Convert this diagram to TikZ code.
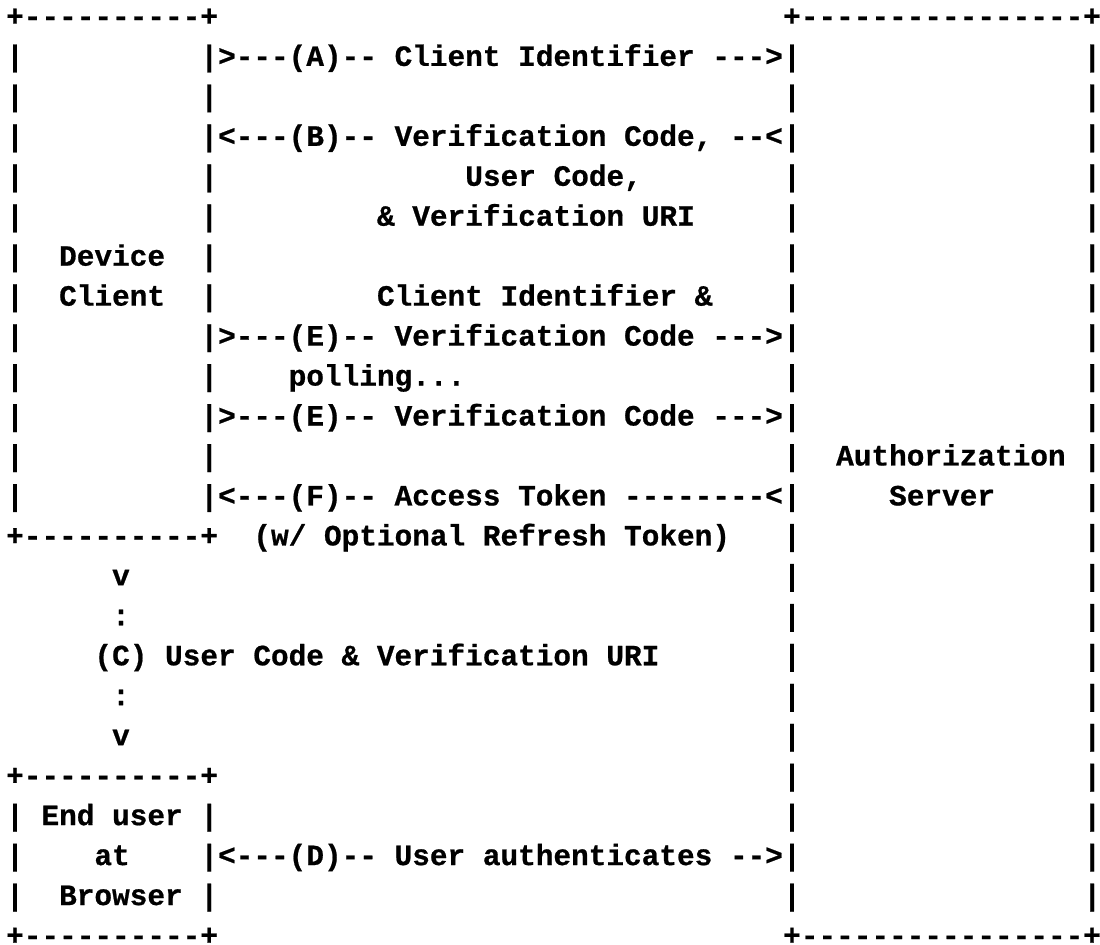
\documentclass[tikz,border=0pt]{standalone}
\usepackage{fontspec}
\setmonofont{Liberation Mono}[BoldFeatures={FakeBold=0.7}]
\begin{document}
\begin{tikzpicture}[x=8.83pt,y=-19.98pt,
    txt/.style={anchor=base west,inner sep=0pt,outer sep=0pt,
      font=\ttfamily\bfseries\fontsize{14.71pt}{18pt}\selectfont}]
  \useasboundingbox (-0.349,0.351) rectangle (61.94,24.0);
  % box tops and bottoms
  \node[txt] (devtop) at (0,1) {+----------+};
  \node[txt] (devbot) at (0,14) {+----------+};
  \node[txt] (usrtop) at (0,20) {+----------+};
  \node[txt] (usrbot) at (0,24) {+----------+};
  \node[txt] (srvtop) at (44,1) {+----------------+};
  \node[txt] (srvbot) at (44,24) {+----------------+};
  % box sides
  \foreach \r in {2,...,13,21,22,23}
    {\node[txt] (lfa\r) at (0,\r) {|}; \node[txt] (lfb\r) at (11,\r) {|};}
  \foreach \r in {2,...,23}
    {\node[txt] (rta\r) at (44,\r) {|}; \node[txt] (rtb\r) at (61,\r) {|};}
  % box labels
  \node[txt] (dev1) at (3,7) {Device};
  \node[txt] (dev2) at (3,8) {Client};
  \node[txt] (srv1) at (47,12) {Authorization};
  \node[txt] (srv2) at (50,13) {Server};
  \node[txt] (usr1) at (2,21) {End user};
  \node[txt] (usr2) at (5,22) {at};
  \node[txt] (usr3) at (3,23) {Browser};
  % messages
  \node[txt] (msgA) at (12,2) {>---(A)-- Client Identifier --->};
  \node[txt] (msgB) at (12,4) {<---(B)-- Verification Code, --<};
  \node[txt] (msgB2) at (26,5) {User Code,};
  \node[txt] (msgB3) at (21,6) {\& Verification URI};
  \node[txt] (msgE0) at (21,8) {Client Identifier \&};
  \node[txt] (msgE1) at (12,9) {>---(E)-- Verification Code --->};
  \node[txt] (poll) at (16,10) {polling...};
  \node[txt] (msgE2) at (12,11) {>---(E)-- Verification Code --->};
  \node[txt] (msgF) at (12,13) {<---(F)-- Access Token --------<};
  \node[txt] (msgF2) at (14,14) {(w/ Optional Refresh Token)};
  \node[txt] (arrC1) at (6,15) {v};
  \node[txt] (dotC1) at (6,16) {:};
  \node[txt] (msgC) at (5,17) {(C) User Code \& Verification URI};
  \node[txt] (dotC2) at (6,18) {:};
  \node[txt] (arrC2) at (6,19) {v};
  \node[txt] (msgD) at (12,22) {<---(D)-- User authenticates -->};
\end{tikzpicture}
\end{document}
